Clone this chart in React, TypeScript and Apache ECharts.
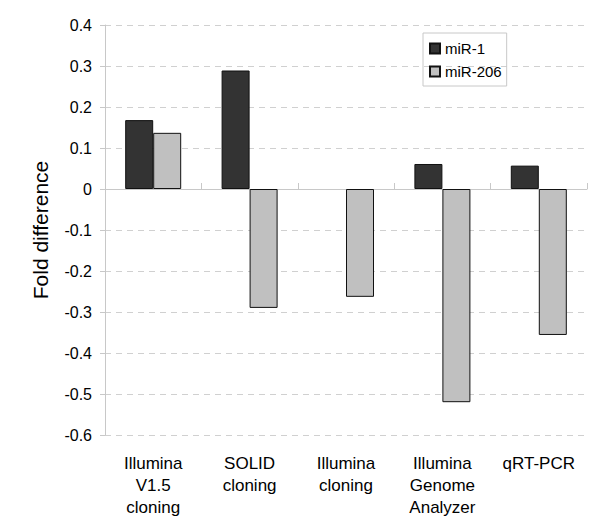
import React, { useEffect, useRef } from "react";
import * as echarts from "echarts";

const categories = [
  "Illumina\nV1.5\ncloning",
  "SOLID\ncloning",
  "Illumina\ncloning",
  "Illumina\nGenome\nAnalyzer",
  "qRT-PCR",
];
const seriesNames = ["miR-1", "miR-206"];
const mir1 = [0.168, 0.289, null, 0.061, 0.057];
const mir206 = [0.137, -0.29, -0.263, -0.52, -0.356];
const yTicks = { min: -0.6, max: 0.4, interval: 0.1 };

export default function App() {
  const ref = useRef<HTMLDivElement>(null);
  useEffect(() => {
    if (!ref.current) return;
    const chart = echarts.init(ref.current, undefined, { renderer: "svg" });
    const font = "Liberation Sans, Arial, sans-serif";
    chart.setOption({
      animation: false,
      backgroundColor: "#ffffff",
      textStyle: { fontFamily: font },
      grid: { left: 105, right: 13, top: 25, bottom: 97, containLabel: false },
      legend: {
        orient: "vertical",
        left: 423,
        top: 33,
        data: seriesNames,
        itemWidth: 10,
        itemHeight: 10,
        itemGap: 8,
        padding: [8, 5, 7, 6],
        borderColor: "#c8c8c8",
        borderWidth: 1,
        textStyle: { fontFamily: font, fontSize: 15, color: "#000" },
        icon: "rect",
      },
      xAxis: [
        {
          type: "category",
          data: categories,
          position: "bottom",
          axisLine: { show: false, onZero: false },
          axisTick: { show: false },
          axisLabel: {
            interval: 0,
            margin: 17,
            fontSize: 17,
            lineHeight: 22,
            color: "#000",
            fontFamily: font,
            verticalAlign: "top",
          },
        },
        {
          type: "category",
          data: categories,
          position: "bottom",
          axisLine: { show: true, onZero: true, lineStyle: { color: "#c8c8c8", width: 1 } },
          axisTick: { show: true, inside: true, length: 6, lineStyle: { color: "#c8c8c8" } },
          axisLabel: { show: false },
        },
      ],
      yAxis: {
        type: "value",
        min: yTicks.min,
        max: yTicks.max,
        interval: yTicks.interval,
        name: "Fold difference",
        nameLocation: "middle",
        nameGap: 54,
        nameTextStyle: { fontSize: 21, color: "#000", fontFamily: font },
        axisLine: { show: true, lineStyle: { color: "#c8c8c8" } },
        axisTick: { show: true, length: 5, lineStyle: { color: "#c8c8c8" } },
        axisLabel: {
          fontSize: 16,
          color: "#000",
          margin: 13,
          fontFamily: font,
          formatter: (v: number) => {
            const r = Number(v.toFixed(1));
            return r === 0 ? "0" : String(r);
          },
        },
        splitLine: { show: true, lineStyle: { color: "#d0d0d0", type: [6, 5], width: 1 } },
      },
      series: [
        {
          name: seriesNames[0],
          type: "bar",
          data: mir1,
          xAxisIndex: 0,
          barWidth: 28,
          barGap: "0%",
          itemStyle: { color: "#333333", borderColor: "#111", borderWidth: 1 },
        },
        {
          name: seriesNames[1],
          type: "bar",
          data: mir206,
          xAxisIndex: 0,
          barWidth: 28,
          barGap: "0%",
          itemStyle: { color: "#c0c0c0", borderColor: "#111", borderWidth: 1 },
        },
      ],
    });
    return () => chart.dispose();
  }, []);
  return <div ref={ref} style={{ width: 600, height: 532, position: "absolute", left: 0, top: 0 }} />;
}
